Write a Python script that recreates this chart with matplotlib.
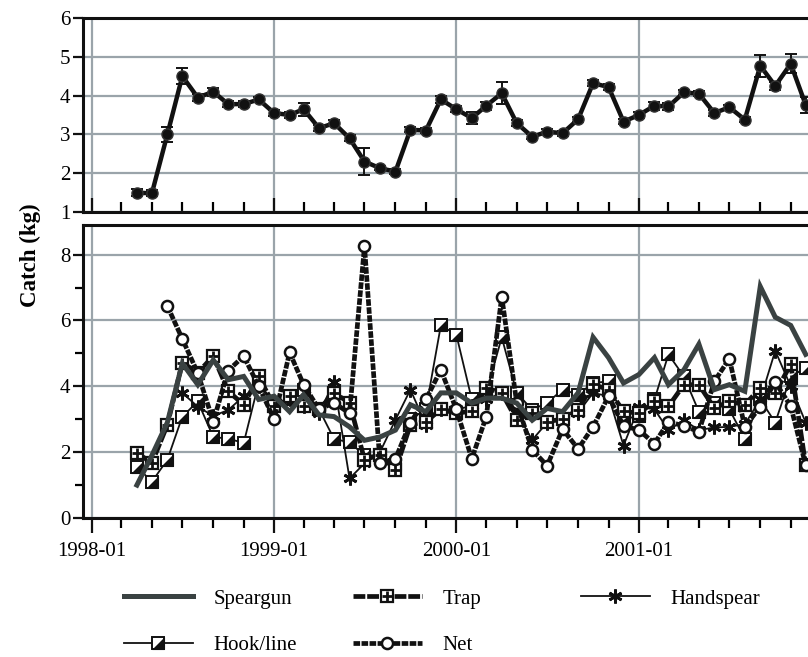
import numpy as np
import pandas as pd
import matplotlib
matplotlib.use("Agg")
import matplotlib.pyplot as plt
import matplotlib.dates as mdates
from matplotlib.legend_handler import HandlerTuple

plt.rcParams['font.family'] = ['Liberation Serif', 'DejaVu Serif']

# ---------------- data ----------------
months = pd.date_range('1998-04-01', '2001-12-01', freq='MS')

mean_catch = [1.5, 1.48, 3.0, 4.5, 3.95, 4.1, 3.78, 3.78, 3.9,
              3.55, 3.5, 3.65, 3.16, 3.29, 2.9, 2.3, 2.13, 2.04, 3.12, 3.1, 3.9,
              3.65, 3.42, 3.74, 4.06, 3.29, 2.94, 3.07, 3.03, 3.39, 4.32, 4.22, 3.33,
              3.5, 3.74, 3.72, 4.08, 4.05, 3.55, 3.7, 3.38, 4.77, 4.25, 4.82, 3.76]
mean_se = [0.1, 0.08, 0.2, 0.2, 0.1, 0.1, 0.07, 0.07, 0.07,
           0.07, 0.08, 0.17, 0.07, 0.07, 0.08, 0.35, 0.06, 0.06, 0.07, 0.07, 0.08,
           0.07, 0.15, 0.1, 0.28, 0.07, 0.06, 0.06, 0.07, 0.07, 0.07, 0.08, 0.07,
           0.08, 0.1, 0.08, 0.07, 0.07, 0.07, 0.07, 0.07, 0.28, 0.1, 0.25, 0.2]

speargun = [1.0, 1.9, 2.9, 4.7, 4.05, 4.8, 4.2, 4.3, 3.6,
            3.7, 3.23, 3.74, 3.13, 3.08, 2.77, 2.36, 2.46, 2.67, 3.44, 3.23, 3.8,
            3.8, 3.49, 3.64, 3.64, 3.49, 2.97, 3.33, 3.23, 3.8, 5.49, 4.87, 4.1,
            4.36, 4.87, 4.05, 4.5, 5.28, 3.9, 4.05, 3.85, 7.03, 6.1, 5.85, 4.97]

trap = [1.98, 1.67, 2.83, 4.72, 4.41, 4.92, 3.85, 3.44, 4.3,
        3.4, 3.7, 3.4, 3.3, 3.8, 3.5, 1.77, 1.92, 1.46, 2.83, 2.93, 3.3,
        3.18, 3.25, 3.95, 3.8, 2.98, 3.2, 2.93, 3.0, 3.29, 4.06, 3.9, 3.24,
        3.18, 3.54, 3.39, 4.05, 4.05, 3.34, 3.54, 3.44, 3.95, 3.8, 4.67, 1.6]

handspear = [np.nan, np.nan, np.nan, 3.8, 3.38, 3.1, 3.28, 3.7, 4.0,
             3.5, 3.6, 3.4, 3.2, 4.12, 1.2, 1.66, 2.0, 2.98, 3.9, 2.83, 3.3,
             3.3, 3.4, 3.6, 3.8, 3.2, 2.37, 2.9, 3.1, 3.2, 3.8, 3.7, 2.2,
             3.38, 3.3, 2.67, 2.97, 2.67, 2.75, 2.77, 2.85, 3.6, 5.08, 4.0, 2.9]

hookline = [1.56, 1.1, 1.77, 3.08, 3.54, 2.46, 2.41, 2.28, 4.1,
            3.5, 3.6, 3.9, 3.3, 2.4, 2.3, 1.9, 1.9, 1.6, 3.0, 3.3, 5.85,
            5.57, 3.6, 3.8, 5.49, 3.8, 3.29, 3.5, 3.9, 3.75, 4.1, 4.15, 3.0,
            3.1, 3.6, 4.97, 4.3, 3.23, 3.5, 3.3, 2.41, 3.6, 2.9, 4.3, 4.56]

net = [np.nan, np.nan, 6.44, 5.44, 4.4, 2.93, 4.48, 4.92, 4.0,
       3.0, 5.03, 4.05, 3.3, 3.5, 3.18, 8.26, 1.67, 1.8, 2.9, 3.6, 4.5,
       3.3, 1.8, 3.08, 6.72, 3.5, 2.07, 1.59, 2.7, 2.1, 2.77, 3.7, 2.8,
       2.67, 2.26, 2.92, 2.8, 2.62, 4.15, 4.84, 2.77, 3.38, 4.12, 3.4, 1.6]

labels = ['Speargun', 'Trap', 'Handspear', 'Hook/line', 'Net']
ylabel = 'Catch (kg)'

# ---------------- figure ----------------
W, H = 808, 657
fig = plt.figure(figsize=(W / 100, H / 100), dpi=100)

xmin = pd.Timestamp('1997-12-14')
xmax = pd.Timestamp('2001-12-28')
px_per_day = 0.4991
width_px = (xmax - xmin).days * px_per_day

left = 83 / W
width = width_px / W
ax1 = fig.add_axes([left, 1 - 212 / H, width, (212 - 18) / H])
ax2 = fig.add_axes([left, 1 - 518 / H, width, (518 - 225) / H])

gridc = '#9aa4aa'
for ax in (ax1, ax2):
    ax.set_xlim(xmin, xmax)
    ax.xaxis.set_major_locator(mdates.YearLocator())
    ax.xaxis.set_minor_locator(mdates.MonthLocator(bymonth=[3, 5, 7, 9, 11]))
    ax.xaxis.set_major_formatter(mdates.DateFormatter('%Y-%m'))
    ax.grid(True, which='major', color=gridc, lw=1.6, zorder=0)
    ax.set_axisbelow(True)
    for s in ax.spines.values():
        s.set_linewidth(2.2)
        s.set_color('#111111')
    ax.tick_params(axis='both', labelsize=15, width=1.6, color='#111111')

# top panel
ax1.set_ylim(1, 6)
ax1.set_yticks([1, 2, 3, 4, 5, 6])
ax1.errorbar(months, mean_catch, yerr=mean_se, color='#111111', lw=3.2,
             marker='o', ms=8, mfc='#111111', mec='#333333',
             elinewidth=1.4, capsize=4, capthick=1.4, zorder=3)
ax1.tick_params(axis='x', which='major', direction='in', length=10, labelbottom=False)
ax1.tick_params(axis='x', which='minor', direction='in', length=7, width=1.6)
ax1.tick_params(axis='y', which='major', direction='out', length=7, pad=2)

# bottom panel
ax2.set_ylim(0, 8.9)
ax2.set_yticks([0, 2, 4, 6, 8])
ax2.set_yticks([1, 3, 5, 7], minor=True)
ax2.tick_params(axis='x', which='major', direction='out', length=11, pad=6)
ax2.tick_params(axis='x', which='minor', direction='out', length=7, width=1.6)
ax2.tick_params(axis='y', which='major', direction='out', length=7, pad=2)
ax2.tick_params(axis='y', which='minor', direction='out', length=6, width=1.6)

hl_tri = [(-1, -1), (1, -1), (1, 1)]

h_hook_line, = ax2.plot(months, hookline, color='#111111', lw=1.3, zorder=3,
                        marker='s', ms=8, mfc='white', mec='#111111', mew=1.4)
h_hook_tri, = ax2.plot(months, hookline, ls='none', marker=hl_tri, ms=8,
                       mfc='#111111', mec='#111111', mew=0.8, zorder=3.1)

h_hand, = ax2.plot(months, handspear, color='#111111', lw=1.3, zorder=4,
                   marker=(6, 2, 0), ms=10, mec='#111111', mew=2.0)

h_trap, = ax2.plot(months, trap, color='#111111', lw=3.4, ls=(0, (2.5, 0.4)),
                   marker='s', ms=8, mfc='white', mec='#111111', mew=1.6, zorder=5)
h_trap_x, = ax2.plot(months, trap, ls='none', marker='+', ms=7, mec='#111111',
                     mew=2.0, zorder=5.1)

h_net, = ax2.plot(months, net, color='#111111', lw=3.4, ls=(0, (1.4, 0.3)),
                  marker='o', ms=8, mfc='white', mec='#111111', mew=1.8,
                  solid_joinstyle='miter', dash_joinstyle='miter', zorder=6)

h_spear, = ax2.plot(months, speargun, color='#3a4242', lw=3.6, zorder=7,
                    solid_joinstyle='miter')

fig.text(30 / W, 1 - 255 / H, ylabel, rotation=90, fontsize=16.5,
         fontweight='bold', ha='center', va='center')

# legend (three columns placed explicitly)
common = dict(frameon=False, fontsize=15, handlelength=3.3, handletextpad=1.0,
              labelspacing=1.3, borderpad=0, borderaxespad=0, loc='upper left',
              handler_map={tuple: HandlerTuple(ndivide=1, pad=0)})
top_y = 1 - 589 / H
fig.legend([h_spear, (h_hook_line, h_hook_tri)], [labels[0], labels[3]],
           bbox_to_anchor=(124 / W, top_y), **common)
fig.legend([(h_trap, h_trap_x), h_net], [labels[1], labels[4]],
           bbox_to_anchor=(353 / W, top_y), **common)
fig.legend([h_hand], [labels[2]],
           bbox_to_anchor=(581 / W, top_y), **common)

fig.savefig('out.png', dpi=100)
